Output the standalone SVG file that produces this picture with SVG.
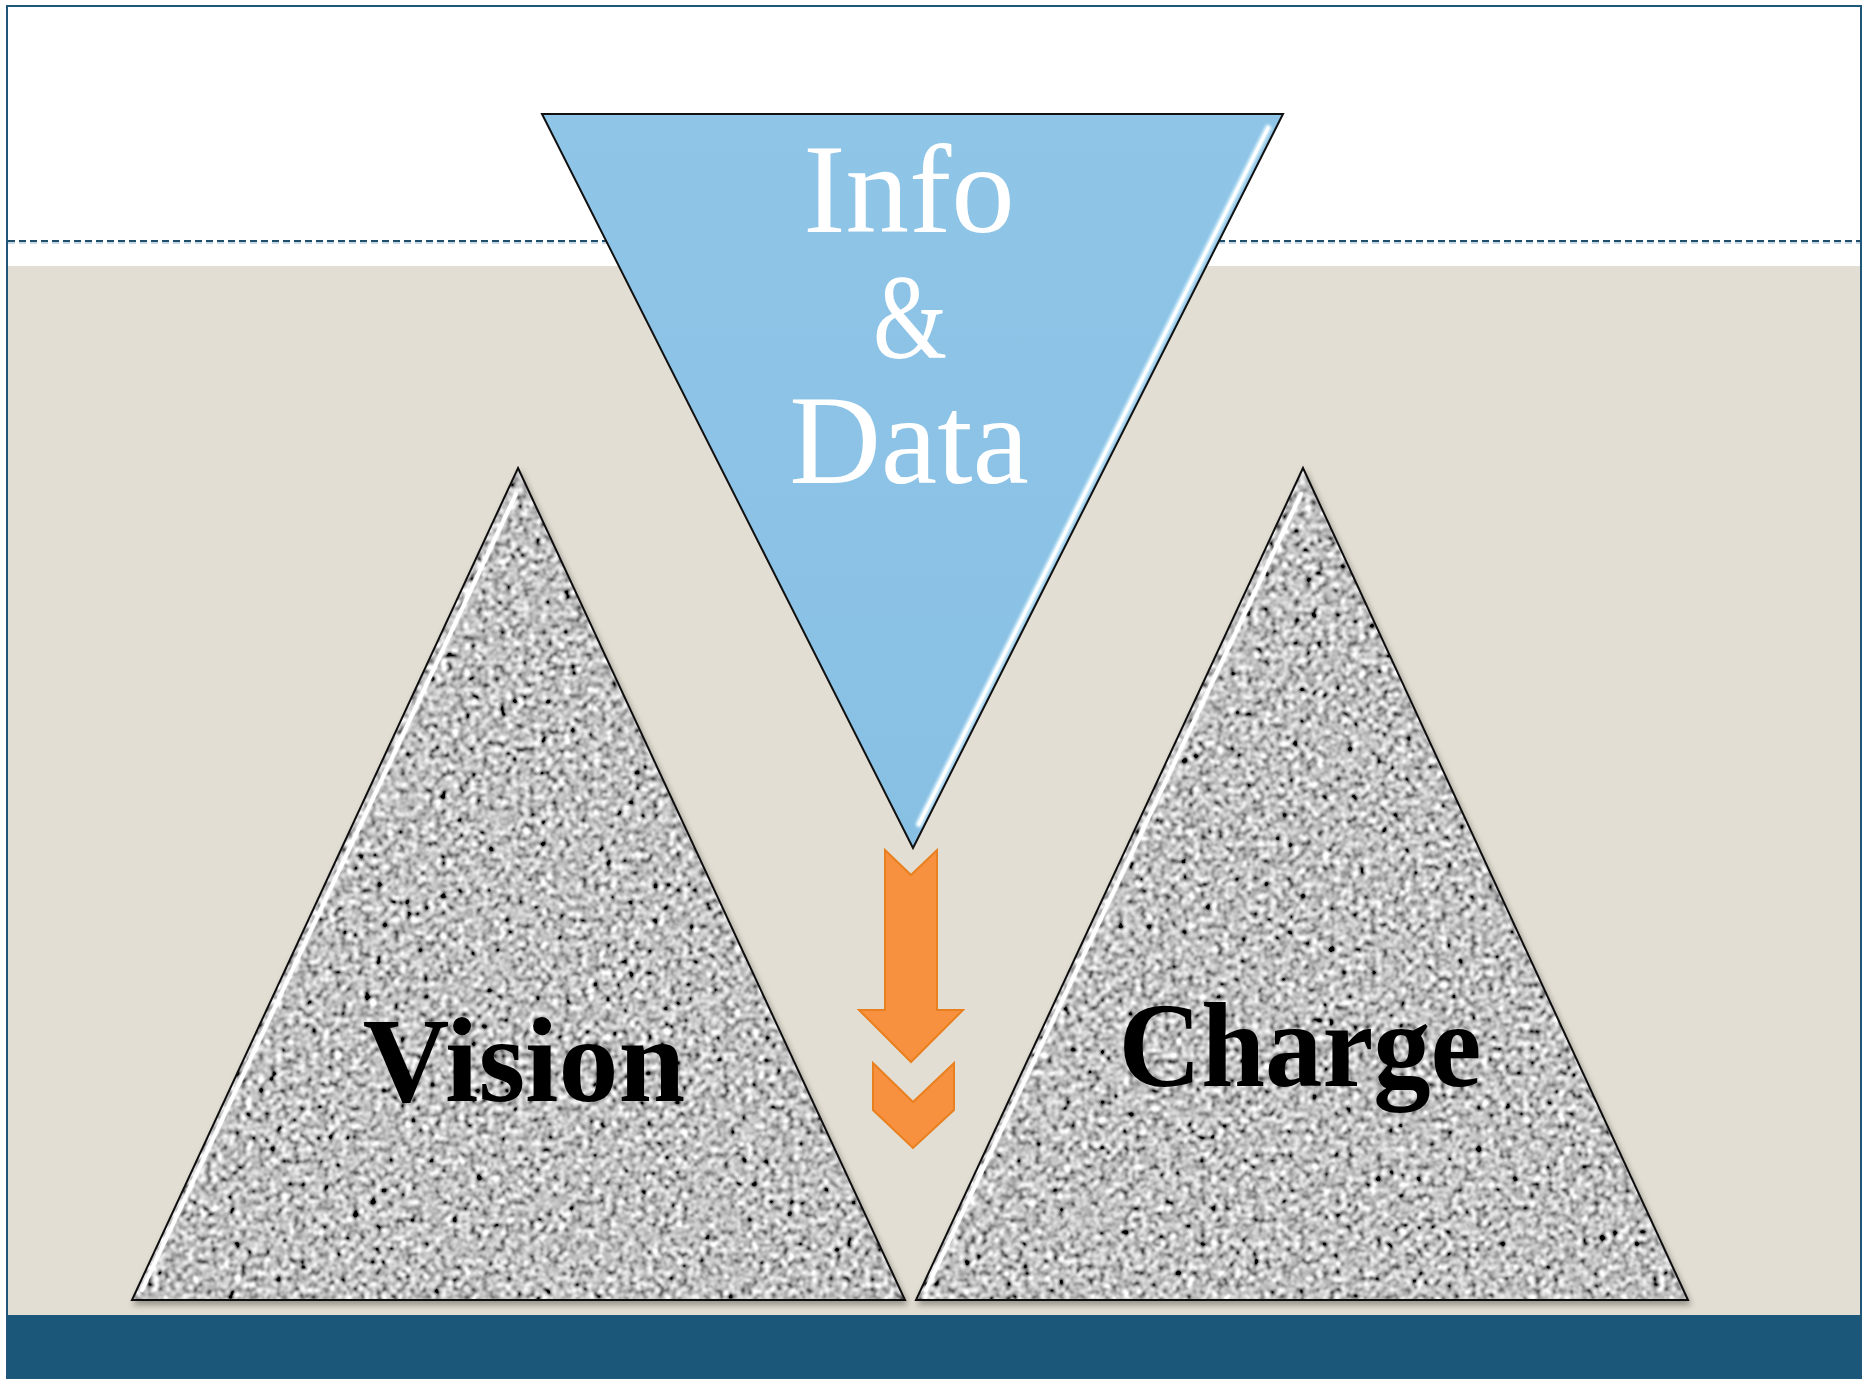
<svg xmlns="http://www.w3.org/2000/svg" width="1867" height="1380" viewBox="0 0 1867 1380">
<defs>
<style>
.frame{fill:#ffffff;stroke:#1F5778;stroke-width:2}
.outline{fill:none;stroke:#111;stroke-width:2;stroke-linejoin:miter}
.hl{fill:none;stroke:#ffffff;stroke-width:4;stroke-linecap:round;opacity:0.95}
.lbl{font-family:"Liberation Serif","Times New Roman",serif;text-anchor:middle}
.orange{fill:#F8913F;stroke:#E9801F;stroke-width:2;stroke-linejoin:miter}
</style>
<filter id="granite" x="0" y="0" width="1" height="1" filterUnits="objectBoundingBox">
<feTurbulence type="fractalNoise" baseFrequency="0.17" numOctaves="2" seed="7" result="n"/>
<feColorMatrix in="n" type="matrix" values="0.33 0.33 0.33 0 0  0.33 0.33 0.33 0 0  0.33 0.33 0.33 0 0  0 0 0 0 1" result="g"/>
<feGaussianBlur in="g" stdDeviation="0.8" result="gb"/>
<feComponentTransfer in="gb" result="c">
<feFuncR type="linear" slope="3.9" intercept="-1.40"/>
<feFuncG type="linear" slope="3.9" intercept="-1.40"/>
<feFuncB type="linear" slope="3.9" intercept="-1.40"/>
</feComponentTransfer>
<feComposite in="c" in2="SourceGraphic" operator="in"/>
</filter>
<filter id="shadow" x="-5%" y="-5%" width="110%" height="115%">
<feGaussianBlur in="SourceAlpha" stdDeviation="3"/>
<feOffset dx="2" dy="4" result="b"/>
<feComponentTransfer in="b"><feFuncA type="linear" slope="0.35"/></feComponentTransfer>
<feMerge><feMergeNode/><feMergeNode in="SourceGraphic"/></feMerge>
</filter>
<filter id="soft" x="-10%" y="-10%" width="120%" height="120%">
<feGaussianBlur stdDeviation="1.2"/>
</filter>
<linearGradient id="blueg" x1="0" y1="0" x2="0" y2="1">
<stop offset="0" stop-color="#8FC5E7"/>
<stop offset="1" stop-color="#88C0E4"/>
</linearGradient>
</defs>

<g id="background">
<rect class="frame" x="7" y="6" width="1854" height="1372"/>
<rect x="8" y="266" width="1852" height="1049" fill="#E3DED3"/>
<rect x="8" y="1315" width="1852" height="63" fill="#1B5779"/>
<line x1="8" y1="243" x2="1860" y2="243" stroke="#C9D9E6" stroke-width="2" stroke-dasharray="7,4"/>
<line x1="8" y1="241" x2="1860" y2="241" stroke="#1F4E6B" stroke-width="2" stroke-dasharray="7,4"/>
</g>

<g id="vision" filter="url(#shadow)">
<polygon points="518,468 905,1300 132,1300" fill="#a0a0a0"/>
<polygon points="518,468 905,1300 132,1300" fill="#a0a0a0" filter="url(#granite)"/>
<polyline class="hl" points="516,494 142,1290" filter="url(#soft)"/>
<polyline class="hl" points="516,494 142,1290" stroke-width="2.5"/>
<polygon class="outline" points="518,468 905,1300 132,1300"/>
<text class="lbl" x="524" y="1101" font-size="120" font-weight="bold" fill="#000">Vision</text>
</g>

<g id="charge" filter="url(#shadow)">
<polygon points="1303,468 1688,1300 916,1300" fill="#a0a0a0"/>
<polygon points="1303,468 1688,1300 916,1300" fill="#a0a0a0" filter="url(#granite)"/>
<polyline class="hl" points="1301,494 926,1290" filter="url(#soft)"/>
<polyline class="hl" points="1301,494 926,1290" stroke-width="2.5"/>
<polygon class="outline" points="1303,468 1688,1300 916,1300"/>
<text class="lbl" x="1300" y="1086" font-size="120" font-weight="bold" fill="#000" textLength="363" lengthAdjust="spacingAndGlyphs">Charge</text>
</g>

<g id="info-data">
<polygon points="542,114 1283,114 913,848" fill="url(#blueg)"/>
<polyline points="1268,128 919,824" fill="none" stroke="#D8F0FB" stroke-width="7" stroke-linecap="round" filter="url(#soft)"/>
<polyline points="1268,128 919,824" fill="none" stroke="#ffffff" stroke-width="3" stroke-linecap="round"/>
<polygon class="outline" points="542,114 1283,114 913,848"/>
<text class="lbl" x="909" y="232" font-size="127" fill="#ffffff">Info</text>
<text class="lbl" x="910" y="358" font-size="120" fill="#ffffff" textLength="74" lengthAdjust="spacingAndGlyphs">&amp;</text>
<text class="lbl" x="909" y="483" font-size="127" fill="#ffffff">Data</text>
</g>

<g id="connectors">
<path class="orange" d="M885,850 L911,875 L937,850 L937,1010 L963,1010 L911,1062 L859,1010 L885,1010 Z"/>
<path class="orange" d="M873,1063 L913,1102 L954,1063 L954,1110 L913,1148 L873,1110 Z"/>
</g>
</svg>
